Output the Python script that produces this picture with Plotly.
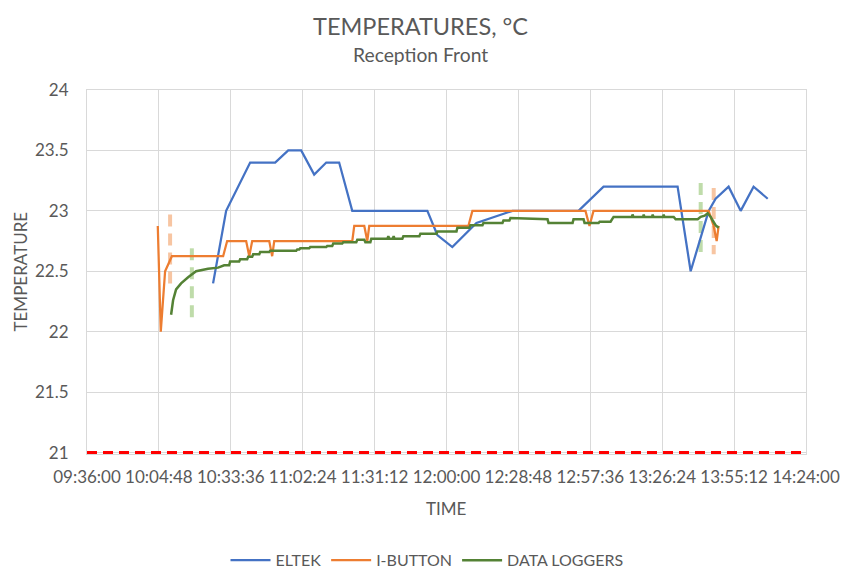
import plotly.graph_objects as go

DAY = "2021-06-01 "

# ---------------- data ----------------
eltek_time = ["10:26:30", "10:31:44", "10:41:21", "10:51:22", "10:56:36", "11:01:48",
              "11:07:00", "11:11:50", "11:17:00", "11:22:15", "11:52:20", "11:56:20",
              "12:02:20", "12:12:00", "12:26:25", "12:52:52", "13:02:54", "13:32:34",
              "13:37:48", "13:45:00", "13:47:48", "13:53:00", "13:57:50", "14:03:00",
              "14:08:40"]
eltek_temp = [22.4, 23.0, 23.4, 23.4, 23.5, 23.5,
              23.3, 23.4, 23.4, 23.0, 23.0, 22.8,
              22.7, 22.9, 23.0, 23.0, 23.2, 23.2,
              22.5, 23.0, 23.1, 23.2, 23.0, 23.2,
              23.1]

ibutton_time = ["10:04:21", "10:05:33", "10:07:17", "10:08:36", "10:10:00", "10:30:32",
                "10:32:08", "10:39:45", "10:41:00", "10:42:10", "10:49:00", "10:50:10",
                "10:51:00", "11:22:15", "11:23:03", "11:27:04", "11:28:16", "11:29:04",
                "12:08:46", "12:10:22", "12:55:40", "12:57:16", "12:58:53", "13:45:00",
                "13:47:00", "13:48:13", "13:49:00"]
ibutton_temp = [22.875, 22.0, 22.5, 22.5625, 22.625, 22.625,
                22.75, 22.75, 22.625, 22.75, 22.75, 22.625,
                22.75, 22.75, 22.875, 22.875, 22.75, 22.875,
                22.875, 23.0, 23.0, 22.875, 23.0, 23.0,
                22.875, 22.75, 22.875]

logger_time = ["10:09:41", "10:10:29", "10:11:41", "10:13:41", "10:16:30", "10:19:42",
               "10:24:31", "10:28:32", "10:30:56", "10:32:56", "10:33:20", "10:36:57",
               "10:37:21", "10:40:10", "10:40:34", "10:42:10", "10:42:34", "10:45:00",
               "10:45:22", "10:49:00", "10:49:23", "10:59:48", "11:00:12", "11:01:00",
               "11:01:25", "11:05:00", "11:05:25", "11:11:50", "11:12:14", "11:14:14",
               "11:14:38", "11:18:15", "11:18:39", "11:23:52", "11:24:16", "11:27:05",
               "11:27:30", "11:29:30", "11:29:53", "11:36:20", "11:36:42", "11:37:05",
               "11:38:30", "11:38:50", "11:39:10", "11:42:19", "11:42:43", "11:49:08",
               "11:49:32", "11:56:00", "11:56:21", "12:04:00", "12:04:22", "12:09:12",
               "12:09:35", "12:14:24", "12:14:48", "12:22:25", "12:22:49", "12:25:13",
               "12:25:37", "12:40:28", "12:40:52", "12:50:30", "12:50:53", "12:54:54",
               "12:55:18", "13:00:55", "13:01:19", "13:05:43", "13:06:55", "13:14:15",
               "13:14:32", "13:14:50", "13:18:45", "13:19:00", "13:19:15", "13:22:20",
               "13:22:36", "13:22:52", "13:26:45", "13:27:00", "13:27:15", "13:31:00",
               "13:31:48", "13:40:37", "13:41:49", "13:43:25", "13:44:37", "13:45:50",
               "13:46:38", "13:47:50", "13:49:02"]
logger_temp = [22.14, 22.26, 22.35, 22.40, 22.45, 22.50,
               22.52, 22.53, 22.55, 22.55, 22.58, 22.58,
               22.60, 22.60, 22.62, 22.62, 22.64, 22.64,
               22.66, 22.66, 22.67, 22.67, 22.68, 22.68,
               22.69, 22.69, 22.70, 22.70, 22.71, 22.71,
               22.73, 22.73, 22.74, 22.74, 22.76, 22.76,
               22.74, 22.74, 22.77, 22.77, 22.79, 22.77,
               22.77, 22.79, 22.77, 22.77, 22.79, 22.79,
               22.81, 22.81, 22.83, 22.83, 22.86, 22.86,
               22.88, 22.88, 22.90, 22.90, 22.92, 22.92,
               22.94, 22.93, 22.90, 22.90, 22.93, 22.93,
               22.90, 22.90, 22.91, 22.91, 22.95, 22.95,
               22.97, 22.95, 22.95, 22.97, 22.95, 22.95,
               22.97, 22.95, 22.95, 22.97, 22.95, 22.95,
               22.93, 22.93, 22.95, 22.96, 22.98, 22.95,
               22.92, 22.88, 22.86]

# vertical start/end markers (dashed, light)
ibutton_mark_time = ["10:09:17", "13:47:02"]
ibutton_mark_low = [22.36, 22.64]
ibutton_mark_high = [22.97, 23.19]
logger_mark_time = ["10:18:00", "13:41:49"]
logger_mark_low = [22.08, 22.62]
logger_mark_high = [22.69, 23.23]

limit_time = ["09:36:00", "14:24:00"]
limit_temp = [21.0, 21.0]

x_ticks = ["09:36:00", "10:04:48", "10:33:36", "11:02:24", "11:31:12", "12:00:00",
           "12:28:48", "12:57:36", "13:26:24", "13:55:12", "14:24:00"]
y_ticks = [21, 21.5, 22, 22.5, 23, 23.5, 24]

# ---------------- figure ----------------
def d(ts):
    return [DAY + t for t in ts]

TXT = "#595959"
GRID = "#D9D9D9"
FONT = "Lato"

fig = go.Figure()

# dashed marker lines (behind main series)
for i in range(len(logger_mark_time)):
    fig.add_trace(go.Scatter(
        x=d([logger_mark_time[i], logger_mark_time[i]]),
        y=[logger_mark_high[i], logger_mark_low[i]],
        mode="lines", showlegend=False, hoverinfo="skip",
        line=dict(color="rgba(169,208,142,0.75)", width=4, dash="12px,7px")))
for i in range(len(ibutton_mark_time)):
    fig.add_trace(go.Scatter(
        x=d([ibutton_mark_time[i], ibutton_mark_time[i]]),
        y=[ibutton_mark_high[i], ibutton_mark_low[i]],
        mode="lines", showlegend=False, hoverinfo="skip",
        line=dict(color="rgba(244,177,131,0.75)", width=4, dash="12px,7px")))

fig.add_trace(go.Scatter(x=d(eltek_time), y=eltek_temp, mode="lines", name="ELTEK",
                         line=dict(color="#4472C4", width=2.25)))
fig.add_trace(go.Scatter(x=d(ibutton_time), y=ibutton_temp, mode="lines", name="I-BUTTON",
                         line=dict(color="#ED7D31", width=2.25)))
fig.add_trace(go.Scatter(x=d(logger_time), y=logger_temp, mode="lines", name="DATA LOGGERS",
                         line=dict(color="#548235", width=2.5)))

fig.add_trace(go.Scatter(x=d(limit_time), y=limit_temp, mode="lines", showlegend=False,
                         hoverinfo="skip",
                         line=dict(color="#FF0000", width=3, dash="10px,6px")))

fig.update_layout(
    width=842, height=569,
    margin=dict(l=87, r=36, t=90, b=115, autoexpand=False),
    paper_bgcolor="white", plot_bgcolor="white",
    font=dict(family=FONT, color=TXT, size=17),
    showlegend=True,
    legend=dict(orientation="h", x=(427 - 87) / 719, xanchor="center",
                y=(453 - 542) / 363, yanchor="top",
                font=dict(size=16, color=TXT), itemwidth=40, traceorder="normal",
                bgcolor="rgba(0,0,0,0)"),
    hovermode=False,
    annotations=[
        dict(text="TEMPERATURES, °C", x=0.4645, y=(453 - 26) / 363, xref="paper", yref="paper",
             showarrow=False, xanchor="center", yanchor="middle", font=dict(size=23.5, color=TXT)),
        dict(text="Reception Front", x=0.4645, y=(453 - 55) / 363, xref="paper", yref="paper",
             showarrow=False, xanchor="center", yanchor="middle", font=dict(size=19.3, color=TXT)),
        dict(text="TIME", x=0.5, y=(453 - 507) / 363, xref="paper", yref="paper",
             showarrow=False, xanchor="center", yanchor="middle", font=dict(size=17, color=TXT)),
        dict(text="TEMPERATURE", x=(20 - 87) / 719, y=(453 - 271) / 363, xref="paper", yref="paper",
             showarrow=False, xanchor="center", yanchor="middle", textangle=-90,
             font=dict(size=17, color=TXT)),
    ],
)

fig.update_xaxes(
    type="date", automargin=False,
    range=[DAY + x_ticks[0], DAY + x_ticks[-1]],
    tickmode="array", tickvals=d(x_ticks), ticktext=x_ticks,
    showgrid=True, gridcolor=GRID, gridwidth=1,
    showline=True, linecolor=GRID, linewidth=1, mirror=True,
    ticks="", ticklabelstandoff=8, zeroline=False,
    tickfont=dict(size=17, color=TXT),
)
fig.update_yaxes(
    automargin=False,
    range=[20.988, 24.0],
    tickmode="array", tickvals=y_ticks, ticktext=[f"{v:g}" for v in y_ticks],
    showgrid=True, gridcolor=GRID, gridwidth=1,
    showline=True, linecolor=GRID, linewidth=1, mirror=True,
    ticks="", ticklabelstandoff=14, zeroline=False,
    tickfont=dict(size=17, color=TXT),
)

fig.write_html("out.html")
